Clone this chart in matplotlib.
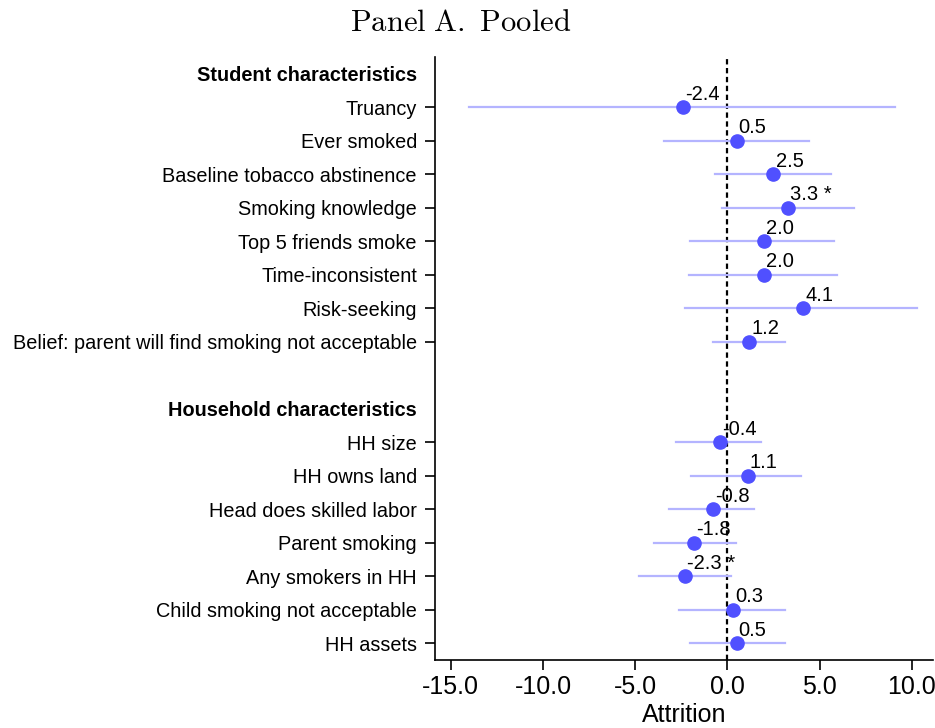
import numpy as np
import matplotlib
matplotlib.use("Agg")
import matplotlib.pyplot as plt

plt.rcParams['font.family'] = ['Liberation Sans', 'DejaVu Sans']
plt.rcParams['mathtext.fontset'] = 'cm'

# row layout: group header, items, blank spacer, group header, items
labels = ["Student characteristics", "Truancy", "Ever smoked", "Baseline tobacco abstinence",
          "Smoking knowledge", "Top 5 friends smoke", "Time-inconsistent", "Risk-seeking",
          "Belief: parent will find smoking not acceptable", "",
          "Household characteristics", "HH size", "HH owns land", "Head does skilled labor",
          "Parent smoking", "Any smokers in HH", "Child smoking not acceptable", "HH assets"]
headers = [0, 10]

coef = [np.nan, -2.4, 0.5, 2.5, 3.3, 2.0, 2.0, 4.1, 1.2, np.nan,
        np.nan, -0.4, 1.1, -0.8, -1.8, -2.3, 0.3, 0.5]
ci_lo = [np.nan, -14.0, -3.45, -0.65, -0.27, -2.0, -2.1, -2.3, -0.78, np.nan,
         np.nan, -2.8, -1.95, -3.15, -4.0, -4.8, -2.65, -2.05]
ci_hi = [np.nan, 9.1, 4.45, 5.6, 6.85, 5.8, 5.95, 10.3, 3.15, np.nan,
         np.nan, 1.85, 4.0, 1.45, 0.45, 0.2, 3.1, 3.1]
stars = ["", "", "", "", "*", "", "", "", "", "",
         "", "", "", "", "", "*", "", ""]

fig = plt.figure(figsize=(9.35, 7.28), dpi=100)
ax = fig.add_axes([0.4652, 0.0934, 0.5328, 0.8283])

pos = np.arange(len(labels))
blue = '#5050ff'
light = '#b4b4ff'

ax.axvline(0, color='black', linestyle=(0, (2.4, 1.6)), linewidth=1.6, zorder=1)
for y, c, lo, hi, s in zip(pos, coef, ci_lo, ci_hi, stars):
    if np.isnan(c):
        continue
    ax.plot([lo, hi], [y, y], color=light, linewidth=1.6, zorder=2)
    ax.plot(c, y, 'o', color=blue, markersize=9.5, zorder=3)
    txt = f"{c:.1f}" + (f" {s}" if s else "")
    ax.annotate(txt, (c, y), xytext=(1.5, 2.5), textcoords='offset points',
                ha='left', va='bottom', fontsize=14.5, zorder=4)

ax.set_ylim(17.5, -0.5)
ax.set_xlim(-15.86, 11.16)
ax.set_yticks(pos)
ax.set_yticklabels(labels, fontsize=14.3)
for i in headers:
    ax.get_yticklabels()[i].set_fontweight('bold')
    ax.yaxis.get_major_ticks()[i].tick1line.set_visible(False)
ax.yaxis.get_major_ticks()[9].tick1line.set_visible(False)

xt = [-15, -10, -5, 0, 5, 10]
ax.set_xticks(xt)
ax.set_xticklabels([f"{v:.1f}" for v in xt], fontsize=18)
ax.tick_params(axis='both', length=7, width=1.2, color='black')
ax.tick_params(axis='y', pad=6)
ax.tick_params(axis='x', pad=4)
ax.set_xlabel("Attrition", fontsize=18, labelpad=2.5)

for side in ['top', 'right']:
    ax.spines[side].set_visible(False)
for side in ['left', 'bottom']:
    ax.spines[side].set_linewidth(1.2)

fig.text(0.4925, 0.968, r"$\mathrm{Panel\ A.\ Pooled}$", ha='center', va='center', fontsize=22)

fig.savefig("out.png", dpi=100)
